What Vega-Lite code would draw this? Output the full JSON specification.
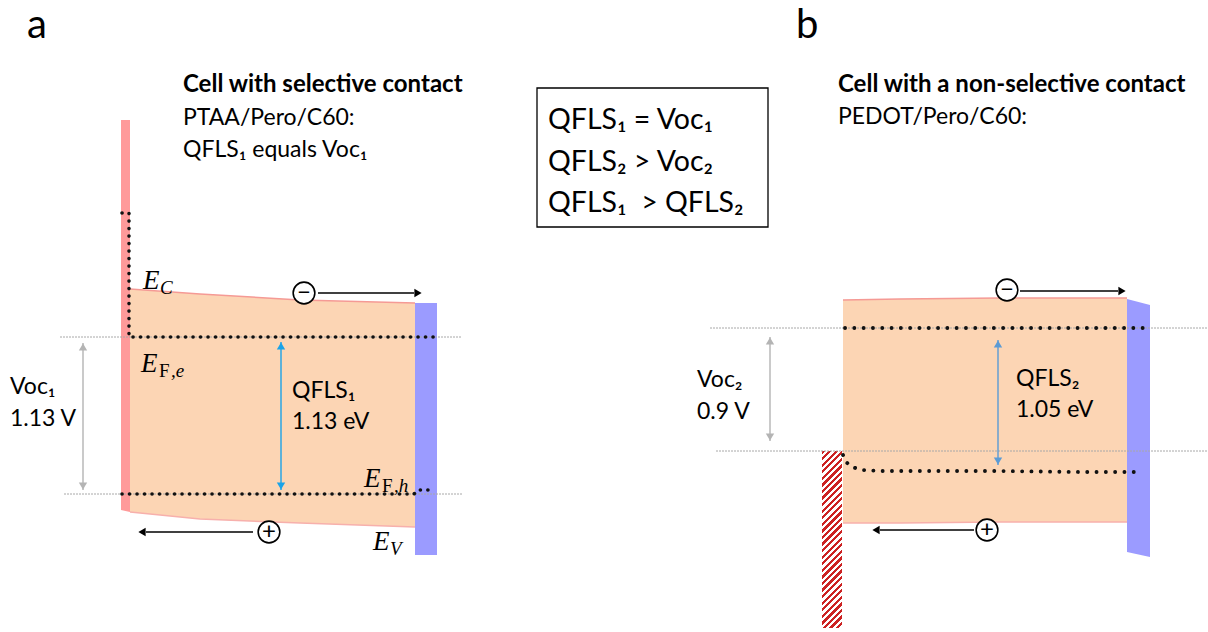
{
  "$schema": "https://vega.github.io/schema/vega-lite/v6.json",
  "width": 1208,
  "height": 632,
  "padding": 0,
  "autosize": {"type": "none"},
  "background": "white",
  "config": {"view": {"stroke": null}},
  "datasets": {
    "regions": [
      {"part": "pero_a", "kind": "pero", "x": 130, "top": 289, "bottom": 512},
      {"part": "pero_a", "kind": "pero", "x": 200, "top": 294, "bottom": 519},
      {"part": "pero_a", "kind": "pero", "x": 300, "top": 300, "bottom": 523},
      {"part": "pero_a", "kind": "pero", "x": 415, "top": 303, "bottom": 527},
      {"part": "pero_b", "kind": "pero", "x": 843, "top": 300, "bottom": 523},
      {"part": "pero_b", "kind": "pero", "x": 900, "top": 299, "bottom": 523},
      {"part": "pero_b", "kind": "pero", "x": 1000, "top": 298, "bottom": 522},
      {"part": "pero_b", "kind": "pero", "x": 1127, "top": 298, "bottom": 522},
      {"part": "htl_a", "kind": "htl", "x": 121, "top": 120, "bottom": 510},
      {"part": "htl_a", "kind": "htl", "x": 130, "top": 120, "bottom": 512},
      {"part": "etl_a", "kind": "etl", "x": 415, "top": 303, "bottom": 555},
      {"part": "etl_a", "kind": "etl", "x": 437, "top": 303, "bottom": 555},
      {"part": "etl_b", "kind": "etl", "x": 1127, "top": 299, "bottom": 552},
      {"part": "etl_b", "kind": "etl", "x": 1150, "top": 305, "bottom": 557}
    ],
    "blocks": [
      {"name": "hatch", "x": 822, "x2": 842, "y": 451, "y2": 628},
      {"name": "box", "x": 537, "x2": 768, "y": 88, "y2": 227}
    ],
    "guides": [
      {"x": 60, "x2": 462, "y": 337},
      {"x": 64, "x2": 462, "y": 494},
      {"x": 710, "x2": 1208, "y": 328},
      {"x": 716, "x2": 1208, "y": 451}
    ],
    "dots": [
      {"line": "efe_a", "panel": "a", "i": 0, "x": 122, "y": 213},
      {"line": "efe_a", "panel": "a", "i": 1, "x": 129, "y": 213},
      {"line": "efe_a", "panel": "a", "i": 2, "x": 129, "y": 337},
      {"line": "efe_a", "panel": "a", "i": 3, "x": 437, "y": 337},
      {"line": "efh_a", "panel": "a", "i": 0, "x": 122, "y": 494},
      {"line": "efh_a", "panel": "a", "i": 1, "x": 414, "y": 494},
      {"line": "efh_a", "panel": "a", "i": 2, "x": 418, "y": 490},
      {"line": "efh_a", "panel": "a", "i": 3, "x": 434, "y": 490},
      {"line": "efe_b", "panel": "b", "i": 0, "x": 845, "y": 328},
      {"line": "efe_b", "panel": "b", "i": 1, "x": 1146, "y": 328},
      {"line": "efh_b", "panel": "b", "i": 0, "x": 843, "y": 455},
      {"line": "efh_b", "panel": "b", "i": 1, "x": 846, "y": 462},
      {"line": "efh_b", "panel": "b", "i": 2, "x": 852, "y": 467},
      {"line": "efh_b", "panel": "b", "i": 3, "x": 862, "y": 470},
      {"line": "efh_b", "panel": "b", "i": 4, "x": 880, "y": 471},
      {"line": "efh_b", "panel": "b", "i": 5, "x": 1000, "y": 471},
      {"line": "efh_b", "panel": "b", "i": 6, "x": 1080, "y": 472},
      {"line": "efh_b", "panel": "b", "i": 7, "x": 1135, "y": 472}
    ],
    "arrows": [
      {"kind": "voc", "x": 83, "y": 343, "x2": 83, "y2": 490},
      {"kind": "voc", "x": 770, "y": 337, "x2": 770, "y2": 441},
      {"kind": "qfls_a", "x": 281, "y": 342, "x2": 281, "y2": 490},
      {"kind": "qfls_b", "x": 998, "y": 340, "x2": 998, "y2": 465},
      {"kind": "carrier", "x": 318, "y": 293, "x2": 414, "y2": 293},
      {"kind": "carrier", "x": 253, "y": 532, "x2": 146, "y2": 532},
      {"kind": "carrier", "x": 1020, "y": 291, "x2": 1118, "y2": 291},
      {"kind": "carrier", "x": 974, "y": 530, "x2": 880, "y2": 530}
    ],
    "heads": [
      {"kind": "voc", "dir": "up", "x": 83, "y": 347},
      {"kind": "voc", "dir": "down", "x": 83, "y": 486},
      {"kind": "voc", "dir": "up", "x": 770, "y": 341},
      {"kind": "voc", "dir": "down", "x": 770, "y": 437},
      {"kind": "qfls_a", "dir": "up", "x": 281, "y": 346},
      {"kind": "qfls_a", "dir": "down", "x": 281, "y": 486},
      {"kind": "qfls_b", "dir": "up", "x": 998, "y": 344},
      {"kind": "qfls_b", "dir": "down", "x": 998, "y": 461},
      {"kind": "carrier", "dir": "right", "x": 418, "y": 293},
      {"kind": "carrier", "dir": "left", "x": 142, "y": 532},
      {"kind": "carrier", "dir": "right", "x": 1122, "y": 291},
      {"kind": "carrier", "dir": "left", "x": 876, "y": 530}
    ],
    "charges": [
      {"sign": "−", "x": 304, "y": 293},
      {"sign": "+", "x": 269, "y": 532},
      {"sign": "−", "x": 1007, "y": 290},
      {"sign": "+", "x": 987, "y": 530}
    ],
    "texts": [
      {"role": "letter", "text": "a", "x": 27, "y": 38},
      {"role": "letter", "text": "b", "x": 796, "y": 38},
      {"role": "title", "text": "Cell with selective contact", "x": 183, "y": 92},
      {"role": "title", "text": "Cell with a non-selective contact", "x": 838, "y": 92},
      {"role": "body", "text": "PTAA/Pero/C60:", "x": 183, "y": 125},
      {"role": "body", "text": "QFLS₁ equals Voc₁", "x": 183, "y": 157},
      {"role": "body", "text": "PEDOT/Pero/C60:", "x": 838, "y": 124},
      {"role": "body", "text": "Voc₁", "x": 10, "y": 394},
      {"role": "body", "text": "1.13 V", "x": 10, "y": 426},
      {"role": "body", "text": "QFLS₁", "x": 292, "y": 398},
      {"role": "body", "text": "1.13 eV", "x": 292, "y": 429},
      {"role": "body", "text": "Voc₂", "x": 697, "y": 387},
      {"role": "body", "text": "0.9 V", "x": 697, "y": 419},
      {"role": "body", "text": "QFLS₂", "x": 1016, "y": 386},
      {"role": "body", "text": "1.05 eV", "x": 1016, "y": 417},
      {"role": "box", "text": "QFLS₁ = Voc₁", "x": 548, "y": 129},
      {"role": "box", "text": "QFLS₂ > Voc₂", "x": 548, "y": 171},
      {"role": "box", "text": "QFLS₁ \u00a0> QFLS₂", "x": 548, "y": 212},
      {"role": "mathE", "text": "E", "x": 143, "y": 289},
      {"role": "mathE", "text": "E", "x": 141, "y": 372},
      {"role": "mathE", "text": "E", "x": 364, "y": 487},
      {"role": "mathE", "text": "E", "x": 373, "y": 550},
      {"role": "subIt", "text": "C", "x": 160, "y": 294},
      {"role": "subIt", "text": ",e", "x": 171, "y": 377},
      {"role": "subIt", "text": ",h", "x": 394, "y": 492},
      {"role": "subIt", "text": "V", "x": 390, "y": 555},
      {"role": "subUp", "text": "F", "x": 159, "y": 377},
      {"role": "subUp", "text": "F", "x": 382, "y": 492}
    ]
  },
  "encoding": {
    "x": {"field": "x", "type": "quantitative", "scale": {"domain": [0, 1208], "nice": false, "zero": false}, "axis": null},
    "y": {"field": "y", "type": "quantitative", "scale": {"domain": [0, 632], "nice": false, "zero": false, "reverse": true}, "axis": null}
  },
  "layer": [
    {
      "data": {"name": "regions"},
      "transform": [{"filter": "datum.kind === 'pero'"}],
      "mark": {"type": "area", "color": "#fcd5b4", "opacity": 1},
      "encoding": {"y": {"field": "top", "type": "quantitative"}, "y2": {"field": "bottom"}, "detail": {"field": "part"}}
    },
    {
      "data": {"name": "regions"},
      "transform": [{"filter": "datum.kind === 'htl'"}],
      "mark": {"type": "area", "color": "#ff9a9a", "opacity": 1},
      "encoding": {"y": {"field": "top", "type": "quantitative"}, "y2": {"field": "bottom"}, "detail": {"field": "part"}}
    },
    {
      "data": {"name": "regions"},
      "transform": [{"filter": "datum.kind === 'etl'"}],
      "mark": {"type": "area", "color": "#9b9bff", "opacity": 1},
      "encoding": {"y": {"field": "top", "type": "quantitative"}, "y2": {"field": "bottom"}, "detail": {"field": "part"}}
    },
    {
      "data": {"name": "regions"},
      "transform": [{"filter": "datum.kind === 'pero'"}],
      "mark": {"type": "line", "color": "#f59a95", "strokeWidth": 1.5},
      "encoding": {"y": {"field": "top", "type": "quantitative"}, "detail": {"field": "part"}}
    },
    {
      "data": {"name": "regions"},
      "transform": [{"filter": "datum.kind === 'pero'"}],
      "mark": {"type": "line", "color": "#f7b0ac", "strokeWidth": 1.5},
      "encoding": {"y": {"field": "bottom", "type": "quantitative"}, "detail": {"field": "part"}}
    },
    {
      "data": {"name": "blocks"},
      "transform": [{"filter": "datum.name === 'hatch'"}],
      "mark": {
        "type": "rect",
        "fill": {
          "gradient": "linear", "x1": 0, "y1": 0, "x2": 0.1242, "y2": 1.099,
          "stops": [
            {"offset": 0, "color": "#cc2222"}, {"offset": 0.0167, "color": "#cc2222"}, {"offset": 0.0167, "color": "#ffffff"}, {"offset": 0.0333, "color": "#ffffff"},
            {"offset": 0.0333, "color": "#cc2222"}, {"offset": 0.05, "color": "#cc2222"}, {"offset": 0.05, "color": "#ffffff"}, {"offset": 0.0667, "color": "#ffffff"},
            {"offset": 0.0667, "color": "#cc2222"}, {"offset": 0.0833, "color": "#cc2222"}, {"offset": 0.0833, "color": "#ffffff"}, {"offset": 0.1, "color": "#ffffff"},
            {"offset": 0.1, "color": "#cc2222"}, {"offset": 0.1167, "color": "#cc2222"}, {"offset": 0.1167, "color": "#ffffff"}, {"offset": 0.1333, "color": "#ffffff"},
            {"offset": 0.1333, "color": "#cc2222"}, {"offset": 0.15, "color": "#cc2222"}, {"offset": 0.15, "color": "#ffffff"}, {"offset": 0.1667, "color": "#ffffff"},
            {"offset": 0.1667, "color": "#cc2222"}, {"offset": 0.1833, "color": "#cc2222"}, {"offset": 0.1833, "color": "#ffffff"}, {"offset": 0.2, "color": "#ffffff"},
            {"offset": 0.2, "color": "#cc2222"}, {"offset": 0.2167, "color": "#cc2222"}, {"offset": 0.2167, "color": "#ffffff"}, {"offset": 0.2333, "color": "#ffffff"},
            {"offset": 0.2333, "color": "#cc2222"}, {"offset": 0.25, "color": "#cc2222"}, {"offset": 0.25, "color": "#ffffff"}, {"offset": 0.2667, "color": "#ffffff"},
            {"offset": 0.2667, "color": "#cc2222"}, {"offset": 0.2833, "color": "#cc2222"}, {"offset": 0.2833, "color": "#ffffff"}, {"offset": 0.3, "color": "#ffffff"},
            {"offset": 0.3, "color": "#cc2222"}, {"offset": 0.3167, "color": "#cc2222"}, {"offset": 0.3167, "color": "#ffffff"}, {"offset": 0.3333, "color": "#ffffff"},
            {"offset": 0.3333, "color": "#cc2222"}, {"offset": 0.35, "color": "#cc2222"}, {"offset": 0.35, "color": "#ffffff"}, {"offset": 0.3667, "color": "#ffffff"},
            {"offset": 0.3667, "color": "#cc2222"}, {"offset": 0.3833, "color": "#cc2222"}, {"offset": 0.3833, "color": "#ffffff"}, {"offset": 0.4, "color": "#ffffff"},
            {"offset": 0.4, "color": "#cc2222"}, {"offset": 0.4167, "color": "#cc2222"}, {"offset": 0.4167, "color": "#ffffff"}, {"offset": 0.4333, "color": "#ffffff"},
            {"offset": 0.4333, "color": "#cc2222"}, {"offset": 0.45, "color": "#cc2222"}, {"offset": 0.45, "color": "#ffffff"}, {"offset": 0.4667, "color": "#ffffff"},
            {"offset": 0.4667, "color": "#cc2222"}, {"offset": 0.4833, "color": "#cc2222"}, {"offset": 0.4833, "color": "#ffffff"}, {"offset": 0.5, "color": "#ffffff"},
            {"offset": 0.5, "color": "#cc2222"}, {"offset": 0.5167, "color": "#cc2222"}, {"offset": 0.5167, "color": "#ffffff"}, {"offset": 0.5333, "color": "#ffffff"},
            {"offset": 0.5333, "color": "#cc2222"}, {"offset": 0.55, "color": "#cc2222"}, {"offset": 0.55, "color": "#ffffff"}, {"offset": 0.5667, "color": "#ffffff"},
            {"offset": 0.5667, "color": "#cc2222"}, {"offset": 0.5833, "color": "#cc2222"}, {"offset": 0.5833, "color": "#ffffff"}, {"offset": 0.6, "color": "#ffffff"},
            {"offset": 0.6, "color": "#cc2222"}, {"offset": 0.6167, "color": "#cc2222"}, {"offset": 0.6167, "color": "#ffffff"}, {"offset": 0.6333, "color": "#ffffff"},
            {"offset": 0.6333, "color": "#cc2222"}, {"offset": 0.65, "color": "#cc2222"}, {"offset": 0.65, "color": "#ffffff"}, {"offset": 0.6667, "color": "#ffffff"},
            {"offset": 0.6667, "color": "#cc2222"}, {"offset": 0.6833, "color": "#cc2222"}, {"offset": 0.6833, "color": "#ffffff"}, {"offset": 0.7, "color": "#ffffff"},
            {"offset": 0.7, "color": "#cc2222"}, {"offset": 0.7167, "color": "#cc2222"}, {"offset": 0.7167, "color": "#ffffff"}, {"offset": 0.7333, "color": "#ffffff"},
            {"offset": 0.7333, "color": "#cc2222"}, {"offset": 0.75, "color": "#cc2222"}, {"offset": 0.75, "color": "#ffffff"}, {"offset": 0.7667, "color": "#ffffff"},
            {"offset": 0.7667, "color": "#cc2222"}, {"offset": 0.7833, "color": "#cc2222"}, {"offset": 0.7833, "color": "#ffffff"}, {"offset": 0.8, "color": "#ffffff"},
            {"offset": 0.8, "color": "#cc2222"}, {"offset": 0.8167, "color": "#cc2222"}, {"offset": 0.8167, "color": "#ffffff"}, {"offset": 0.8333, "color": "#ffffff"},
            {"offset": 0.8333, "color": "#cc2222"}, {"offset": 0.85, "color": "#cc2222"}, {"offset": 0.85, "color": "#ffffff"}, {"offset": 0.8667, "color": "#ffffff"},
            {"offset": 0.8667, "color": "#cc2222"}, {"offset": 0.8833, "color": "#cc2222"}, {"offset": 0.8833, "color": "#ffffff"}, {"offset": 0.9, "color": "#ffffff"},
            {"offset": 0.9, "color": "#cc2222"}, {"offset": 0.9167, "color": "#cc2222"}, {"offset": 0.9167, "color": "#ffffff"}, {"offset": 0.9333, "color": "#ffffff"},
            {"offset": 0.9333, "color": "#cc2222"}, {"offset": 0.95, "color": "#cc2222"}, {"offset": 0.95, "color": "#ffffff"}, {"offset": 0.9667, "color": "#ffffff"},
            {"offset": 0.9667, "color": "#cc2222"}, {"offset": 0.9833, "color": "#cc2222"}, {"offset": 0.9833, "color": "#ffffff"}, {"offset": 1, "color": "#ffffff"}
          ]
        }
      },
      "encoding": {"x2": {"field": "x2"}, "y2": {"field": "y2"}}
    },
    {
      "data": {"name": "blocks"},
      "transform": [{"filter": "datum.name === 'box'"}],
      "mark": {"type": "rect", "fill": "white", "fillOpacity": 0, "stroke": "#000000", "strokeWidth": 1.3},
      "encoding": {"x2": {"field": "x2"}, "y2": {"field": "y2"}}
    },
    {
      "data": {"name": "guides"},
      "mark": {"type": "rule", "color": "#a8a8a8", "strokeWidth": 1, "strokeDash": [2, 1]},
      "encoding": {"x2": {"field": "x2"}}
    },
    {
      "data": {"name": "dots"},
      "transform": [{"filter": "datum.panel === 'a'"}],
      "mark": {"type": "line", "color": "#111111", "strokeWidth": 3.6, "strokeCap": "round", "strokeDash": [0.1, 7.4]},
      "encoding": {"detail": {"field": "line"}, "order": {"field": "i", "type": "quantitative"}}
    },
    {
      "data": {"name": "dots"},
      "transform": [{"filter": "datum.panel === 'b'"}],
      "mark": {"type": "line", "color": "#111111", "strokeWidth": 3.8, "strokeCap": "round", "strokeDash": [0.1, 9.2]},
      "encoding": {"detail": {"field": "line"}, "order": {"field": "i", "type": "quantitative"}}
    },
    {
      "data": {"name": "arrows"},
      "mark": {"type": "rule", "strokeWidth": 1.4},
      "encoding": {
        "x2": {"field": "x2"}, "y2": {"field": "y2"},
        "color": {"field": "kind", "type": "nominal", "legend": null, "scale": {"domain": ["voc", "qfls_a", "qfls_b", "carrier"], "range": ["#b4b4b4", "#1aa3e8", "#5b9bd5", "#000000"]}}
      }
    },
    {
      "data": {"name": "heads"},
      "mark": {"type": "point", "filled": true, "size": 70, "opacity": 1},
      "encoding": {
        "shape": {"field": "dir", "type": "nominal", "legend": null, "scale": {"domain": ["up", "down", "left", "right"], "range": ["triangle-up", "triangle-down", "triangle-left", "triangle-right"]}},
        "color": {"field": "kind", "type": "nominal", "legend": null, "scale": {"domain": ["voc", "qfls_a", "qfls_b", "carrier"], "range": ["#b4b4b4", "#1aa3e8", "#5b9bd5", "#000000"]}}
      }
    },
    {
      "data": {"name": "charges"},
      "mark": {"type": "point", "shape": "circle", "size": 470, "filled": true, "fill": "white", "stroke": "#000000", "strokeWidth": 1.6, "opacity": 1}
    },
    {
      "data": {"name": "charges"},
      "mark": {"type": "text", "font": "Lato", "fontSize": 24, "baseline": "middle", "align": "center", "dy": 0, "color": "#000000"},
      "encoding": {"text": {"field": "sign"}}
    },
    {
      "data": {"name": "texts"},
      "transform": [{"filter": "datum.role === 'letter'"}],
      "mark": {"type": "text", "font": "Lato", "fontSize": 40, "align": "left", "baseline": "alphabetic", "color": "#000000"},
      "encoding": {"text": {"field": "text"}}
    },
    {
      "data": {"name": "texts"},
      "transform": [{"filter": "datum.role === 'title'"}],
      "mark": {"type": "text", "font": "Lato", "fontSize": 24, "fontWeight": "bold", "align": "left", "baseline": "alphabetic", "color": "#000000"},
      "encoding": {"text": {"field": "text"}}
    },
    {
      "data": {"name": "texts"},
      "transform": [{"filter": "datum.role === 'body'"}],
      "mark": {"type": "text", "font": "Lato", "fontSize": 23, "align": "left", "baseline": "alphabetic", "color": "#000000"},
      "encoding": {"text": {"field": "text"}}
    },
    {
      "data": {"name": "texts"},
      "transform": [{"filter": "datum.role === 'box'"}],
      "mark": {"type": "text", "font": "Lato", "fontSize": 28.5, "align": "left", "baseline": "alphabetic", "color": "#000000"},
      "encoding": {"text": {"field": "text"}}
    },
    {
      "data": {"name": "texts"},
      "transform": [{"filter": "datum.role === 'mathE'"}],
      "mark": {"type": "text", "font": "Liberation Serif", "fontStyle": "italic", "fontSize": 27, "align": "left", "baseline": "alphabetic", "color": "#000000"},
      "encoding": {"text": {"field": "text"}}
    },
    {
      "data": {"name": "texts"},
      "transform": [{"filter": "datum.role === 'subIt'"}],
      "mark": {"type": "text", "font": "Liberation Serif", "fontStyle": "italic", "fontSize": 19, "align": "left", "baseline": "alphabetic", "color": "#000000"},
      "encoding": {"text": {"field": "text"}}
    },
    {
      "data": {"name": "texts"},
      "transform": [{"filter": "datum.role === 'subUp'"}],
      "mark": {"type": "text", "font": "Liberation Serif", "fontSize": 19, "align": "left", "baseline": "alphabetic", "color": "#000000"},
      "encoding": {"text": {"field": "text"}}
    }
  ]
}
